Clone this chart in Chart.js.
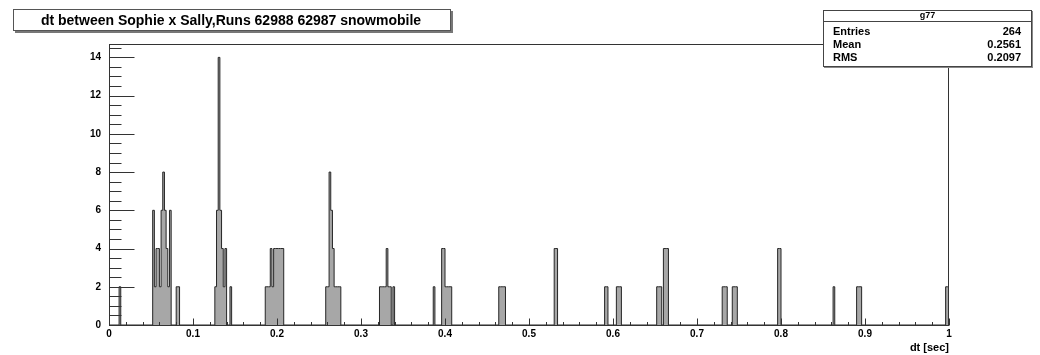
<!DOCTYPE html>
<html>
<head>
<meta charset="utf-8">
<script src="https://cdn.jsdelivr.net/npm/chart.js@4/dist/chart.umd.min.js"></script>
<style>
  html, body { margin: 0; padding: 0; background: #fff; }
  canvas { display: block; }
</style>
</head>
<body>
<canvas id="c" width="1040" height="355"></canvas>
<script>
// Histogram of dt (seconds), 500 bins of 0.002 on [0, 1]; only filled bins listed.
const binWidth = 0.002;
const binLow = [
  0.012,
  0.052, 0.054, 0.056, 0.058, 0.060, 0.062, 0.064, 0.066, 0.068, 0.070, 0.072, 0.080, 0.082,
  0.126, 0.128, 0.130, 0.132, 0.134, 0.136, 0.138, 0.144,
  0.186, 0.188, 0.190, 0.192, 0.194, 0.196, 0.198, 0.200, 0.202, 0.204, 0.206,
  0.258, 0.260, 0.262, 0.264, 0.266, 0.268, 0.270, 0.272, 0.274,
  0.322, 0.324, 0.326, 0.328, 0.330, 0.332, 0.334, 0.338,
  0.386, 0.396, 0.398, 0.400, 0.402, 0.404, 0.406,
  0.464, 0.466, 0.468, 0.470,
  0.530, 0.532,
  0.590, 0.592, 0.604, 0.606, 0.608,
  0.652, 0.654, 0.656, 0.660, 0.662, 0.664,
  0.730, 0.732, 0.734, 0.742, 0.744, 0.746,
  0.796, 0.798,
  0.862,
  0.890, 0.892, 0.894,
  0.996, 0.998
];
const counts = [
  2,
  6, 2, 4, 4, 2, 6, 8, 6, 4, 2, 6, 2, 2,
  2, 6, 14, 6, 4, 2, 4, 2,
  2, 2, 2, 4, 2, 4, 4, 4, 4, 4, 4,
  2, 2, 8, 6, 4, 2, 2, 2, 2,
  2, 2, 2, 2, 4, 2, 2, 2,
  2, 4, 4, 2, 2, 2, 2,
  2, 2, 2, 2,
  4, 4,
  2, 2, 2, 2, 2,
  2, 2, 2, 4, 4, 4,
  2, 2, 2, 2, 2, 2,
  4, 4,
  2,
  2, 2, 2,
  2, 2
];

const xRange = [0, 1];
const yRange = [0, 14.7];
const xTickValues = [0, 0.1, 0.2, 0.3, 0.4, 0.5, 0.6, 0.7, 0.8, 0.9, 1];
const yTickValues = [0, 2, 4, 6, 8, 10, 12, 14];

const titleText = 'dt between Sophie x Sally,Runs 62988 62987 snowmobile';
const xTitle = 'dt [sec]';
const histName = 'g77';
const statLabels = ['Entries', 'Mean', 'RMS'];
const statValues = ['264', '0.2561', '0.2097'];

const FONT = "'Liberation Sans', Arial, Helvetica, sans-serif";

// Outline of the histogram as step points at bin low edges.
function histogramOutline() {
  const pts = [{ x: xRange[0], y: 0 }];
  for (let i = 0; i < binLow.length; i++) {
    const lo = binLow[i];
    pts.push({ x: lo, y: counts[i] });
    const hi = lo + binWidth;
    const next = binLow[i + 1];
    if (next === undefined || next - hi > binWidth / 2) pts.push({ x: hi, y: 0 });
  }
  if (pts[pts.length - 1].x < xRange[1]) pts.push({ x: xRange[1], y: 0 });
  return pts;
}

// Frame, inward tick marks, title pave and statistics box.
const paves = {
  id: 'paves',
  afterDatasetsDraw(chart) {
    const { ctx, chartArea: a, scales: { x, y } } = chart;
    ctx.save();
    ctx.strokeStyle = '#333';
    ctx.lineWidth = 1;
    const L = Math.round(a.left) + 0.5, R = Math.round(a.right) - 0.5;
    const T = Math.round(a.top) + 0.5, B = Math.round(a.bottom) + 0.5;
    ctx.strokeRect(L, T, R - L, B - T);

    ctx.beginPath();
    for (let i = 0; i <= 29; i++) {
      const v = i * 0.5;
      if (v > yRange[1]) break;
      const py = Math.round(y.getPixelForValue(v)) + 0.5;
      const len = (i % 4 === 0) ? 25 : 12;
      ctx.moveTo(L, py); ctx.lineTo(L + len, py);
    }
    for (let i = 0; i <= 50; i++) {
      const v = i * 0.02;
      const px = Math.round(x.getPixelForValue(v)) + 0.5;
      const len = (i % 5 === 0) ? 7 : 3.5;
      ctx.moveTo(px, B); ctx.lineTo(px, B - len);
    }
    ctx.stroke();
    ctx.restore();
  },
  afterDraw(chart) {
    const { ctx } = chart;
    ctx.save();
    // title pave with shadow
    const tb = { l: 13, t: 9, w: 438, h: 22 };
    ctx.fillStyle = '#777';
    ctx.fillRect(tb.l + 2, tb.t + 2, tb.w, tb.h);
    ctx.fillStyle = '#fff';
    ctx.fillRect(tb.l, tb.t, tb.w, tb.h);
    ctx.strokeStyle = '#555';
    ctx.lineWidth = 1;
    ctx.strokeRect(tb.l + 0.5, tb.t + 0.5, tb.w - 1, tb.h - 1);
    ctx.fillStyle = '#000';
    ctx.font = 'bold 14px ' + FONT;
    ctx.textAlign = 'center';
    ctx.textBaseline = 'middle';
    ctx.fillText(titleText, tb.l + tb.w / 2 - 1, tb.t + tb.h / 2 + 1);

    // statistics box
    const sb = { l: 823, t: 10, w: 209, h: 57 };
    ctx.fillStyle = '#888';
    ctx.fillRect(sb.l + 1, sb.t + 1, sb.w, sb.h);
    ctx.fillStyle = '#fff';
    ctx.fillRect(sb.l, sb.t, sb.w, sb.h);
    ctx.strokeStyle = '#444';
    ctx.strokeRect(sb.l + 0.5, sb.t + 0.5, sb.w - 1, sb.h - 1);
    ctx.beginPath();
    ctx.moveTo(sb.l, sb.t + 11.5); ctx.lineTo(sb.l + sb.w, sb.t + 11.5);
    ctx.stroke();
    ctx.fillStyle = '#000';
    ctx.font = 'bold 9px ' + FONT;
    ctx.textAlign = 'center';
    ctx.fillText(histName, sb.l + sb.w / 2, sb.t + 6);
    ctx.font = 'bold 11px ' + FONT;
    const rowY = [32, 44.5, 57.5];
    statLabels.forEach((lab, i) => {
      ctx.textAlign = 'left';
      ctx.fillText(lab, sb.l + 10, rowY[i]);
      ctx.textAlign = 'right';
      ctx.fillText(statValues[i], sb.l + sb.w - 11, rowY[i]);
    });
    ctx.restore();
  }
};

new Chart(document.getElementById('c'), {
  type: 'line',
  data: {
    datasets: [{
      data: histogramOutline(),
      stepped: 'before',
      borderColor: '#262626',
      backgroundColor: 'rgba(60,60,60,0.45)',
      borderWidth: 1,
      pointRadius: 0,
      fill: 'origin',
      tension: 0
    }]
  },
  options: {
    responsive: false,
    animation: false,
    devicePixelRatio: 1,
    layout: { padding: { left: 0, right: 91, top: 44, bottom: 0 } },
    plugins: { legend: { display: false }, tooltip: { enabled: false }, title: { display: false } },
    scales: {
      x: {
        type: 'linear',
        min: xRange[0],
        max: xRange[1],
        afterBuildTicks: s => { s.ticks = xTickValues.map(v => ({ value: v })); },
        afterFit: s => { s.height = 30; },
        grid: { display: false, drawTicks: false },
        border: { display: false },
        ticks: {
          padding: 3,
          color: '#000',
          font: { family: FONT, size: 10, weight: 'bold' },
          maxRotation: 0,
          autoSkip: false,
          callback: v => String(v)
        },
        title: {
          display: true,
          text: xTitle,
          align: 'end',
          color: '#000',
          padding: { top: 0, bottom: 0 },
          font: { family: FONT, size: 11, weight: 'bold' }
        }
      },
      y: {
        type: 'linear',
        min: yRange[0],
        max: yRange[1],
        afterBuildTicks: s => { s.ticks = yTickValues.map(v => ({ value: v })); },
        afterFit: s => { s.width = 109; },
        grid: { display: false, drawTicks: false },
        border: { display: false },
        ticks: {
          padding: 8,
          color: '#000',
          font: { family: FONT, size: 10, weight: 'bold' },
          autoSkip: false,
          callback: v => String(v)
        }
      }
    }
  },
  plugins: [paves]
});
</script>
</body>
</html>
